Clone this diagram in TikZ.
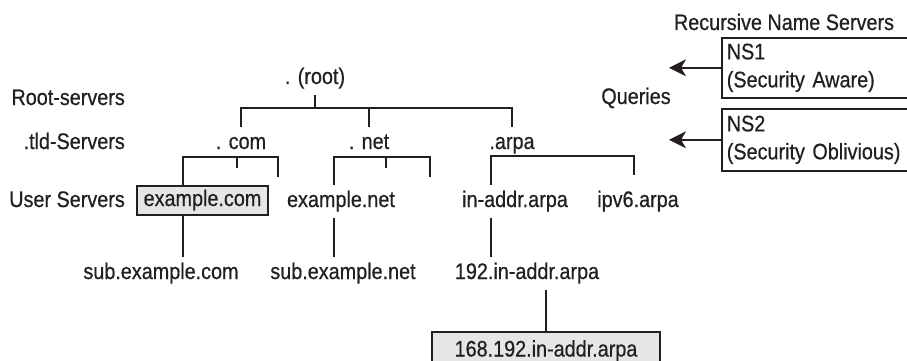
\documentclass[tikz,border=0pt]{standalone}
\usepackage{fontspec}
\setmainfont{Liberation Sans}[FakeStretch=0.88,FakeBold=0.6]
\usetikzlibrary{arrows.meta}
\definecolor{ink}{HTML}{231F20}
\definecolor{boxfill}{HTML}{E6E6E6}
\begin{document}
\begin{tikzpicture}[x=1pt,y=-1pt,
  every node/.style={font=\fontsize{22.5}{28}\selectfont, text=ink},
  lbl/.style={anchor=base, text height=15pt, text depth=4pt, inner xsep=2pt, inner ysep=7pt},
  side/.style={anchor=base east, inner sep=0pt},
  graybox/.style={draw=ink, line width=1.6pt, fill=boxfill, inner sep=0pt, text height=15pt, text depth=4pt},
  nsbox/.style={draw=ink, line width=1.6pt, fill=white, anchor=north west, align=left,
     text width=190pt, minimum width=200pt, inner xsep=4pt, inner ysep=0pt},
  tree/.style={draw=ink, line width=1.8pt},
  arr/.style={draw=ink, line width=1.8pt, -{Stealth[length=17pt,width=17pt,inset=5pt]}}
]
\useasboundingbox (0,0) rectangle (907,361);
\clip (0,0) rectangle (907,361);
\fill[white] (0,0) rectangle (907,361);

% level labels
\node[side] (lroot) at (125,105) {Root-servers};
\node[side] (ltld)  at (125,149) {.tld-Servers};
\node[side] (luser) at (125,207) {User Servers};

% tree nodes
\node[lbl] (root) at (315,84) {. (root)};
\node[lbl] (com)  at (241,149) {. com};
\node[lbl] (net)  at (369,149) {. net};
\node[lbl] (arpa) at (512,149) {.arpa};
\node[graybox, minimum width=131pt, minimum height=29pt] (excom) at (202.5,200.5) {example.com};
\node[lbl] (exnet)  at (341,207) {example.net};
\node[lbl] (inaddr) at (515,207) {in-addr.arpa};
\node[lbl] (ipv6)   at (638,207) {ipv6.arpa};
\node[lbl] (subcom) at (161,279) {sub.example.com};
\node[lbl] (subnet) at (343,279) {sub.example.net};
\node[lbl] (n192)   at (527,279) {192.in-addr.arpa};
\node[graybox, minimum width=228pt, minimum height=38pt] (n168) at (546,351) {168.192.in-addr.arpa};

% recursive servers
\node[anchor=base, inner sep=0pt] (rns) at (784,30) {Recursive Name Servers};
\node[nsbox, minimum height=60pt] (ns1) at (721,37) {NS1\\(Security Aware)};
\node[nsbox, minimum height=62pt] (ns2) at (721,108) {NS2\\(Security Oblivious)};
\node[anchor=base, inner sep=0pt] (queries) at (636,104) {Queries};
\coordinate (qtip) at (669,0);
\draw[arr] (ns1.west) -- (ns1.west -| qtip);
\draw[arr] (ns2.west) -- (ns2.west -| qtip);

% root fork
\coordinate (rbar) at (0,108);
\draw[tree] (com.north) -- (com.north |- rbar) -- (arpa.north |- rbar) -- (arpa.north);
\draw[tree] (net.north) -- (net.north |- rbar);
\draw[tree] (root.south) -- (root.south |- rbar);

% .com fork
\coordinate (cL) at (183,157);
\coordinate (cM) at (237,157);
\coordinate (cR) at (278,157);
\coordinate (cMe) at (237,168);
\coordinate (cRe) at (278,177);
\draw[tree] (excom.north -| cL) -- (cL) -- (cR) -- (cRe);
\draw[tree] (cM) -- (cMe);

% .net fork
\coordinate (nL) at (334,157);
\coordinate (nM) at (386,157);
\coordinate (nR) at (430,157);
\coordinate (nMe) at (386,168);
\coordinate (nRe) at (430,177);
\draw[tree] (exnet.north -| nL) -- (nL) -- (nR) -- (nRe);
\draw[tree] (nM) -- (nMe);

% .arpa fork
\coordinate (aL) at (491,156);
\coordinate (aR) at (634,156);
\draw[tree] (inaddr.north -| aL) -- (aL) -- (aR) -- ([yshift=10pt]ipv6.north -| aR);

% user servers to subdomains
\draw[tree] (excom.south -| cL) -- (subcom.north -| cL);
\draw[tree] (exnet.south -| nL) -- (subnet.north -| nL);
\draw[tree] (inaddr.south -| aL) -- (n192.north -| aL);
\draw[tree] (n168.north) -- (n168.north |- n192.south);
\end{tikzpicture}
\end{document}
